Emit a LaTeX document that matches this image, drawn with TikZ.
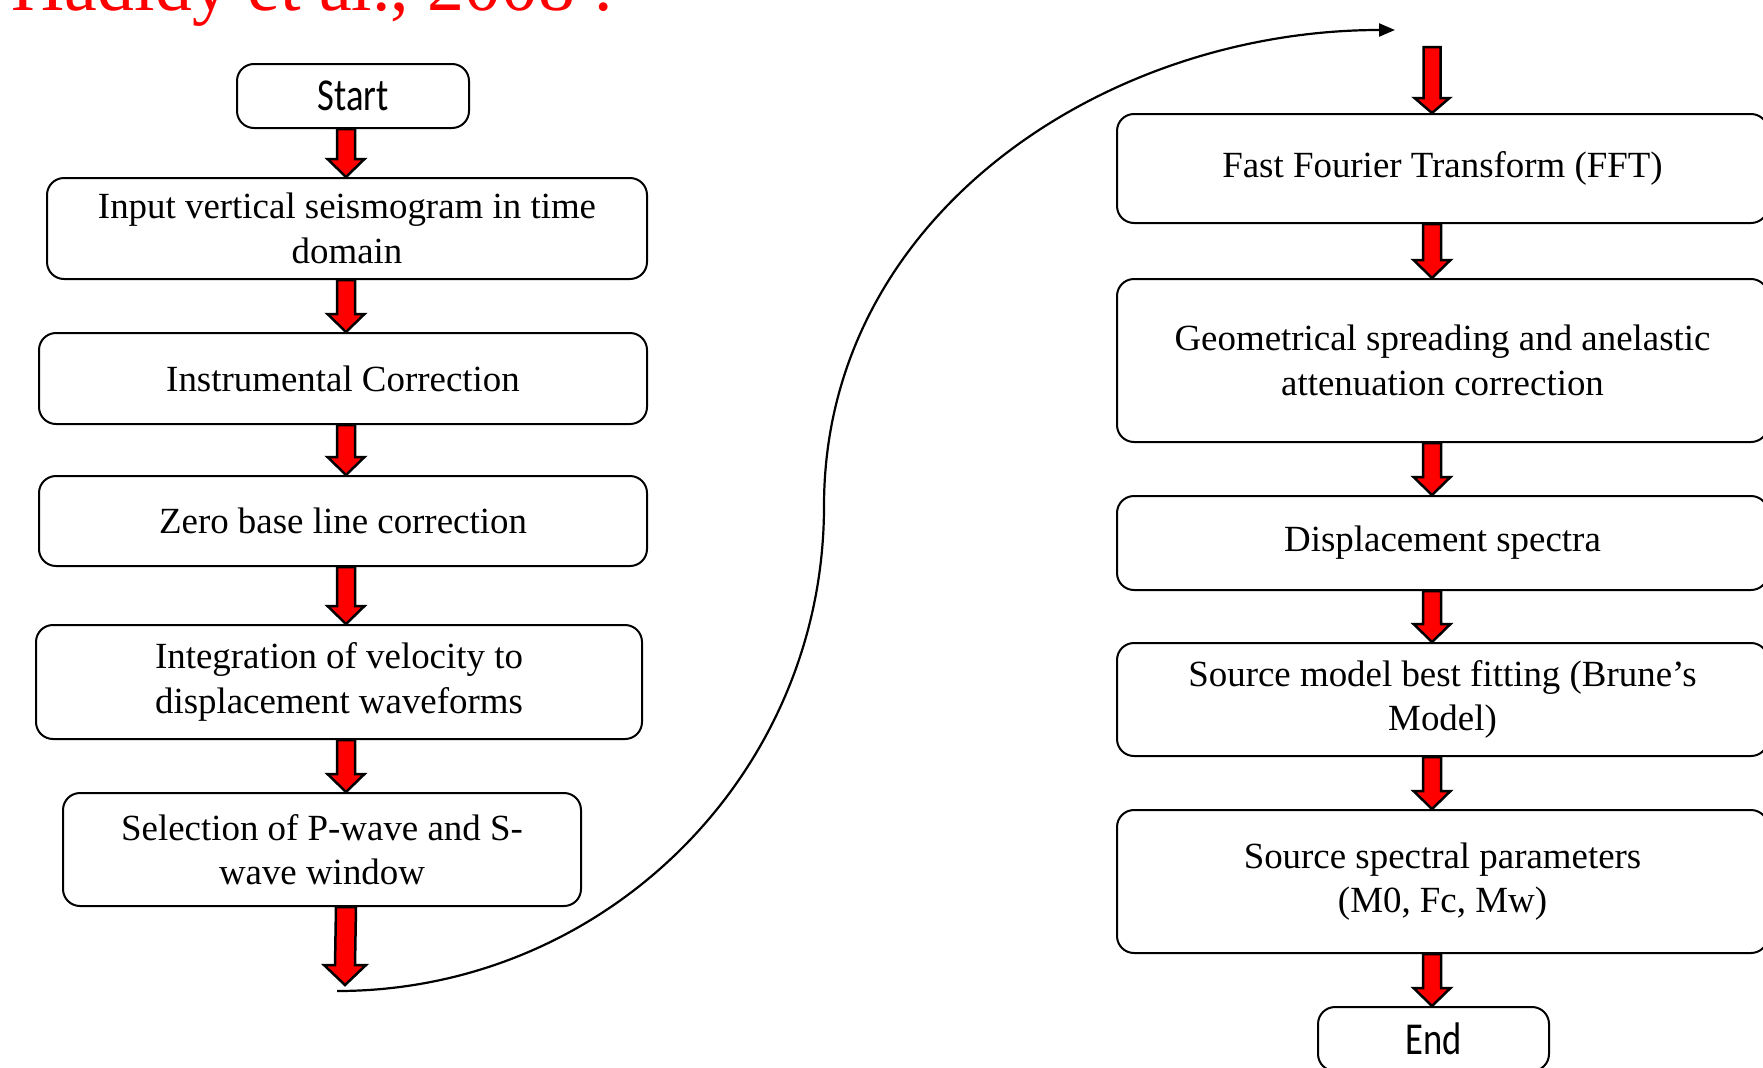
\documentclass[tikz,border=0pt]{standalone}
\usepackage{fontspec}
\setmainfont{Liberation Serif}
\newfontfamily\calibrifont{Carlito}[FakeStretch=0.8]
\newfontfamily\titlefont{Liberation Serif}
\usetikzlibrary{calc,arrows.meta}
\tikzset{
 arrshaft/.store in=\arrshaft, arrhead/.store in=\arrhead, arrtip/.store in=\arrtip,
 arrshaft=9, arrhead=18.5, arrtip=18}

\begin{document}
\begin{tikzpicture}[x=0.1mm,y=-0.1mm,
 every node/.style={font=\fontsize{10.5}{12.6}\selectfont},
 stepbox/.style={draw,rounded corners=1.7mm,line width=.2mm,align=center,inner sep=0pt},
 termbox/.style={stepbox,font=\calibrifont\fontsize{13}{15}\selectfont},
 blockarrow/.style={draw=black,fill=red,line width=.25mm,
  to path={($(\tikztostart)+(-\arrshaft,0)$) -- ($(\tikztotarget)+(-\arrshaft,-\arrtip)$)
   -- ($(\tikztotarget)+(-\arrhead,-\arrtip)$) -- (\tikztotarget)
   -- ($(\tikztotarget)+(\arrhead,-\arrtip)$) -- ($(\tikztotarget)+(\arrshaft,-\arrtip)$)
   -- ($(\tikztostart)+(\arrshaft,0)$) -- cycle}},
 sweep/.style={line width=.22mm,-{Triangle[length=1.6mm,width=1.3mm]}}]
 \useasboundingbox (0,0) rectangle (1763,1067);
 % cut-off reference line at the top
 \node[font=\titlefont\fontsize{21}{25}\selectfont,text=red,anchor=base west,inner sep=0pt]
   (cite) at (11,10) {Hadidy et al., 2008 :};
 % left column
 \node[termbox,minimum width=23.2mm,minimum height=6.4mm] (start) at (353,96) {Start};
 \node[stepbox,minimum width=60mm,minimum height=10.1mm] (input) at (347,228.5)
   {Input vertical seismogram in time\\domain};
 \node[stepbox,minimum width=60.8mm,minimum height=9.1mm] (instr) at (343,378.5)
   {Instrumental Correction};
 \node[stepbox,minimum width=60.8mm,minimum height=9mm] (zero) at (343,521)
   {Zero base line correction};
 \node[stepbox,minimum width=60.6mm,minimum height=11.4mm] (integ) at (339,682)
   {Integration of velocity to\\displacement waveforms};
 \node[stepbox,minimum width=51.8mm,minimum height=11.3mm] (select) at (322,849.5)
   {Selection of P-wave and S-\\wave window};
 % right column
 \node[stepbox,minimum width=65.1mm,minimum height=10.9mm] (fft) at (1442.5,168.5)
   {Fast Fourier Transform (FFT)};
 \node[stepbox,minimum width=65.1mm,minimum height=16.3mm] (geo) at (1442.5,360.5)
   {Geometrical spreading and anelastic\\attenuation correction};
 \node[stepbox,minimum width=65.1mm,minimum height=9.4mm] (disp) at (1442.5,543)
   {Displacement spectra};
 \node[stepbox,minimum width=65.1mm,minimum height=11.3mm] (brune) at (1442.5,699.5)
   {Source model best fitting (Brune’s\\Model)};
 \node[stepbox,minimum width=65.1mm,minimum height=14.3mm] (params) at (1442.5,881.5)
   {Source spectral parameters\\(M0, Fc, Mw)};
 \node[termbox,minimum width=23.1mm,minimum height=6.4mm] (end) at (1433.5,1039) {End};
 \coordinate (lcol) at (346,0);
 \coordinate (rcol) at (1432,0);
 \coordinate (selout) at (345,985);
 \coordinate (fftin) at (1432,47);
 \draw[blockarrow] (start.south -| lcol) to (input.north -| lcol);
 \draw[blockarrow] (input.south -| lcol) to (instr.north -| lcol);
 \draw[blockarrow] (instr.south -| lcol) to (zero.north -| lcol);
 \draw[blockarrow] (zero.south -| lcol) to (integ.north -| lcol);
 \draw[blockarrow] (integ.south -| lcol) to (select.north -| lcol);
 \draw[blockarrow,arrshaft=10,arrhead=21,arrtip=20] (select.south -| lcol) to (selout);
 \draw[blockarrow,arrshaft=8.5,arrhead=17.5,arrtip=15] (fftin) to (fft.north -| rcol);
 \draw[blockarrow] (fft.south -| rcol) to (geo.north -| rcol);
 \draw[blockarrow] (geo.south -| rcol) to (disp.north -| rcol);
 \draw[blockarrow] (disp.south -| rcol) to (brune.north -| rcol);
 \draw[blockarrow] (brune.south -| rcol) to (params.north -| rcol);
 \draw[blockarrow] (params.south -| rcol) to (end.north -| rcol);
 % link from the bottom of the left column to the top of the right one
 \coordinate (curvestart) at (337,991);
 \coordinate (curvemid) at (824,506);
 \coordinate (curveend) at (1395,30);
 \draw[sweep] (curvestart) to[out=0,in=-90] (curvemid) to[out=90,in=180] (curveend);
\end{tikzpicture}
\end{document}
